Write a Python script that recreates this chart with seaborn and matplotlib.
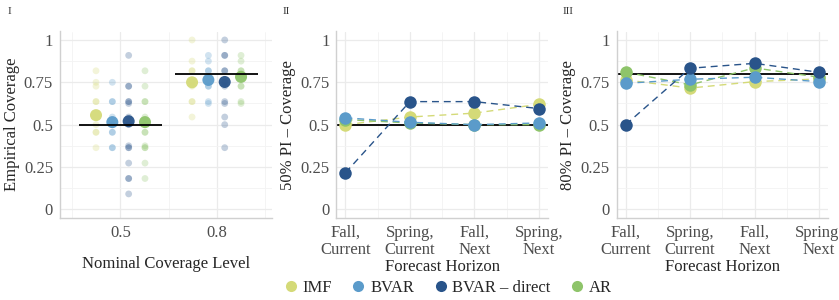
import numpy as np
import pandas as pd
import seaborn as sns
import matplotlib.pyplot as plt
from matplotlib.lines import Line2D

# Coverage values

models = ["IMF", "BVAR", "BVAR \u2013 direct", "AR"]
colors = ["#d4da78", "#5b9bca", "#29548a", "#8ec46a"]
levels = ["0.5", "0.8"]

# panel I: individual coverage rates (small dots)
imf_50 = [0.818, 0.75, 0.727, 0.636, 0.636, 0.5, 0.455, 0.455, 0.364]
bvar_50 = [0.75, 0.636, 0.636, 0.545, 0.5, 0.5, 0.455, 0.455, 0.364, 0.364]
direct_50 = [0.909, 0.727, 0.727, 0.636, 0.636, 0.625, 0.545, 0.5, 0.375, 0.364, 0.364, 0.273, 0.182, 0.182, 0.091]
ar_50 = [0.818, 0.727, 0.636, 0.636, 0.545, 0.5, 0.455, 0.455, 0.375, 0.364, 0.364, 0.273, 0.182]

imf_80 = [1.0, 0.875, 0.818, 0.818, 0.75, 0.727, 0.636, 0.636, 0.545]
bvar_80 = [0.909, 0.875, 0.818, 0.818, 0.75, 0.727, 0.727, 0.636, 0.625]
direct_80 = [1.0, 0.909, 0.909, 0.818, 0.818, 0.75, 0.727, 0.636, 0.625, 0.545, 0.5, 0.364]
ar_80 = [0.909, 0.875, 0.818, 0.818, 0.8, 0.727, 0.727, 0.636, 0.625]

# panel I: average coverage (big dots)
mean_50 = [0.556, 0.515, 0.52, 0.515]
mean_80 = [0.75, 0.764, 0.752, 0.782]

# panels II and III: coverage by forecast horizon
horizons = ["Fall,\nCurrent", "Spring,\nCurrent", "Fall,\nNext", "Spring,\nNext"]
cov50_imf = [0.5, 0.545, 0.568, 0.62]
cov50_bvar = [0.54, 0.514, 0.5, 0.51]
cov50_direct = [0.216, 0.636, 0.636, 0.595]
cov50_ar = [0.53, 0.51, 0.5, 0.5]
cov80_imf = [0.764, 0.716, 0.754, 0.77]
cov80_bvar = [0.744, 0.768, 0.78, 0.754]
cov80_direct = [0.5, 0.833, 0.862, 0.809]
cov80_ar = [0.81, 0.735, 0.835, 0.78]

sns.set_theme(style="whitegrid")
plt.rcParams['font.family'] = ['Liberation Serif', 'DejaVu Serif']
plt.rcParams['mathtext.fontset'] = 'stix'

pal = dict(zip(models, colors))
offsets = dict(zip(models, [-0.255, -0.085, 0.085, 0.255]))

# long tables
rows = []
for lev_i, lev in enumerate(levels):
    raw = [[imf_50, bvar_50, direct_50, ar_50], [imf_80, bvar_80, direct_80, ar_80]][lev_i]
    for m, vals in zip(models, raw):
        for v in vals:
            rows.append({"level": lev, "model": m, "x": lev_i + offsets[m], "cov": v})
points = pd.DataFrame(rows)

rows = []
for lev_i, lev in enumerate(levels):
    mm = [mean_50, mean_80][lev_i]
    for m, v in zip(models, mm):
        rows.append({"level": lev, "model": m, "x": lev_i + offsets[m], "cov": v})
means = pd.DataFrame(rows)

def horizon_df(series):
    out = []
    for m, vals in zip(models, series):
        for h, v in zip(horizons, vals):
            out.append({"horizon": h, "model": m, "cov": v})
    return pd.DataFrame(out)

h50 = horizon_df([cov50_imf, cov50_bvar, cov50_direct, cov50_ar])
h80 = horizon_df([cov80_imf, cov80_bvar, cov80_direct, cov80_ar])

fig = plt.figure(figsize=(8.39, 3.0), dpi=100)
ax1 = fig.add_axes([0.0715, 0.274, 0.253, 0.621])
ax2 = fig.add_axes([0.401, 0.274, 0.252, 0.621])
ax3 = fig.add_axes([0.735, 0.274, 0.252, 0.621])

def style_axis(ax):
    ax.set_ylim(-0.05, 1.05)
    ax.set_yticks([0, 0.25, 0.5, 0.75, 1])
    ax.set_yticklabels(["0", "0.25", "0.5", "0.75", "1"])
    ax.set_yticks([0.125, 0.375, 0.625, 0.875], minor=True)
    ax.grid(which='major', color='#ebebeb', lw=0.9)
    ax.grid(which='minor', color='#f3f3f3', lw=0.6)
    for s in ['top', 'right']:
        ax.spines[s].set_visible(False)
    for s in ['left', 'bottom']:
        ax.spines[s].set_color('#d0d0d0')
        ax.spines[s].set_linewidth(1.0)
    ax.tick_params(axis='both', which='major', labelsize=12, colors='#4d4d4d',
                   length=3, color='#d0d0d0', pad=2)
    ax.tick_params(axis='both', which='minor', length=0)
    ax.set_axisbelow(True)

# panel I
sns.scatterplot(data=points, x="x", y="cov", hue="model", hue_order=models,
                palette=pal, s=24, alpha=0.28, linewidth=0, legend=False, ax=ax1)
sns.scatterplot(data=means, x="x", y="cov", hue="model", hue_order=models,
                palette=pal, s=75, alpha=0.95, linewidth=0, legend=False, ax=ax1)
ax1.hlines([float(l) for l in levels], [i - 0.43 for i in range(2)],
           [i + 0.43 for i in range(2)], color='black', lw=1.3, zorder=5)
style_axis(ax1)
ax1.set_xlim(-0.63, 1.58)
ax1.set_xticks(range(len(levels)))
ax1.set_xticklabels(levels)
ax1.set_xticks([-0.5, 0.5, 1.5], minor=True)
ax1.set_xlabel("Nominal Coverage Level", fontsize=12, labelpad=11)
ax1.set_ylabel("Empirical Coverage", fontsize=12, labelpad=3)

# panels II and III
draw_order = ["IMF", "AR", "BVAR", "BVAR \u2013 direct"]
for ax, df, nominal, lab in [(ax2, h50, 0.5, "50% PI \u2013 Coverage"),
                             (ax3, h80, 0.8, "80% PI \u2013 Coverage")]:
    ax.axhline(nominal, color='black', lw=1.3, zorder=1.5)
    for m in draw_order:
        sub = df[df.model == m]
        sns.lineplot(data=sub, x="horizon", y="cov", color=pal[m], ax=ax,
                     lw=1.0, linestyle=(0, (5, 3.5)), marker='o', markersize=9,
                     markeredgewidth=0, sort=False, legend=False)
    style_axis(ax)
    ax.set_xlim(-0.14, 3.14)
    ax.set_xticks(range(len(horizons)))
    ax.set_xticklabels(horizons, linespacing=1.1)
    ax.set_xticks([0.5, 1.5, 2.5], minor=True)
    ax.set_xlabel("Forecast Horizon", fontsize=12, labelpad=1)
    ax.set_ylabel(lab, fontsize=12, labelpad=3)

fig.text(0.009, 0.955, "I", fontsize=8, color='#333333')
fig.text(0.337, 0.955, "II", fontsize=8, color='#333333')
fig.text(0.671, 0.955, "III", fontsize=8, color='#333333')

handles = [Line2D([], [], marker='o', ls='', color=c, markersize=8, markeredgewidth=0)
           for c in colors]
fig.legend(handles, models, loc='lower center', bbox_to_anchor=(0.532, -0.035),
           ncol=4, frameon=False, fontsize=12, handletextpad=0.1,
           columnspacing=1.0, handlelength=1.2)

fig.savefig("out.png", dpi=100)
